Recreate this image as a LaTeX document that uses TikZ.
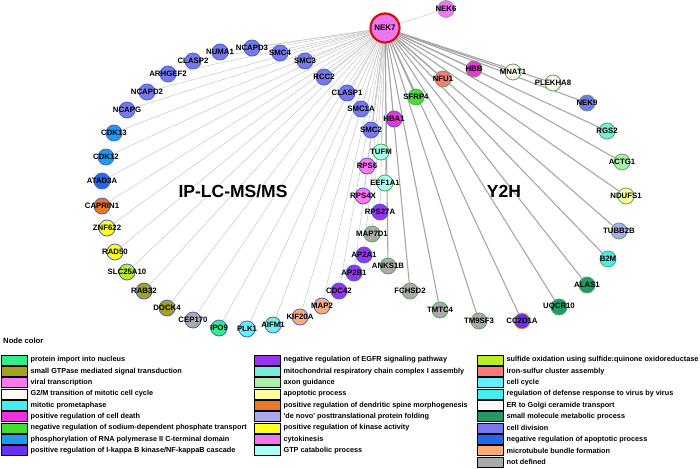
\documentclass[tikz,border=0pt]{standalone}
\usepackage{fontspec}
\setmainfont{Liberation Sans}
\usetikzlibrary{positioning}
\usetikzlibrary{backgrounds}

\definecolor{division}{HTML}{7777EE}
\definecolor{polii}{HTML}{2299EE}
\definecolor{antiapopt}{HTML}{2266EE}
\definecolor{spine}{HTML}{EE7722}
\definecolor{kinase}{HTML}{FFFF22}
\definecolor{sulfide}{HTML}{BBEE22}
\definecolor{gtpase}{HTML}{A8A020}
\definecolor{undef}{HTML}{AAAAAA}
\definecolor{import}{HTML}{33EE88}
\definecolor{cycle}{HTML}{66EEFF}
\definecolor{mitoresp}{HTML}{77EEDD}
\definecolor{bundle}{HTML}{FFAA77}
\definecolor{egfr}{HTML}{9933EE}
\definecolor{viral}{HTML}{FF77EE}
\definecolor{gtp}{HTML}{AAFFF0}
\definecolor{death}{HTML}{EE33DD}
\definecolor{sodium}{HTML}{44DD33}
\definecolor{iron}{HTML}{FF7777}
\definecolor{gtwom}{HTML}{FFFAF4}
\definecolor{axon}{HTML}{AAEEAA}
\definecolor{apopt}{HTML}{FFFF99}
\definecolor{folding}{HTML}{AAAAEE}
\definecolor{defense}{HTML}{44EEEE}
\definecolor{metab}{HTML}{229966}
\definecolor{kappa}{HTML}{6633EE}
\definecolor{cytok}{HTML}{EE77EE}
\definecolor{golgi}{HTML}{F8F8FF}
\definecolor{ipline}{HTML}{4466CC}
\definecolor{yhline}{HTML}{55AA55}

\tikzset{ipnode/.style={draw=ipline, circle, minimum size=16pt, inner sep=0pt, line width=0.8pt}}
\tikzset{yhnode/.style={draw=yhline, circle, minimum size=16pt, inner sep=0pt, line width=0.8pt}}
\tikzset{iplink/.style={draw=black!22, line width=0.5pt}}
\tikzset{yhlink/.style={draw=black!35, line width=1.1pt}}
\tikzset{swatch/.style={draw=black, line width=0.8pt, minimum width=26pt, minimum height=10pt, inner sep=0pt}}
\tikzset{legtext/.style={inner sep=0pt, font=\bfseries\fontsize{7.3}{8}\selectfont}}
\tikzset{every label/.style={inner sep=0pt, font=\bfseries\fontsize{7.8}{8}\selectfont}}

\begin{document}
\begin{tikzpicture}[x=1pt, y=-1pt]
\useasboundingbox (0,0) rectangle (700,468);

\node (nek7) [circle, draw={rgb,255:red,204;green,17;blue,17}, line width=2.2pt, fill=cytok, minimum size=29pt, inner sep=0pt, font=\bfseries\fontsize{8}{9}\selectfont] at (385,28) {NEK7};
\node (nek6) [circle, draw=black!40, line width=0.6pt, fill=cytok, minimum size=17pt, inner sep=0pt, label=center:NEK6] at (446,9) {};

% IP-LC-MS/MS partners
\node (numa1) [ipnode, fill=division, label=center:NUMA1] at (220,52) {};
\node (ncapd3) [ipnode, fill=division, label=center:NCAPD3] at (252,48) {};
\node (smc4) [ipnode, fill=division, label=center:SMC4] at (280,53) {};
\node (smc3) [ipnode, fill=division, label=center:SMC3] at (305,61) {};
\node (rcc2) [ipnode, fill=division, label=center:RCC2] at (324,77) {};
\node (clasp1) [ipnode, fill=division, label=center:CLASP1] at (347,93) {};
\node (clasp2) [ipnode, fill=division, label=center:CLASP2] at (193,61) {};
\node (arhgef2) [ipnode, fill=division, label=center:ARHGEF2] at (168,74) {};
\node (ncapd2) [ipnode, fill=division, label=center:NCAPD2] at (147,92) {};
\node (ncapg) [ipnode, fill=division, label=center:NCAPG] at (127,110) {};
\node (cdk13) [ipnode, fill=polii, label=center:CDK13] at (114,133) {};
\node (cdk12) [ipnode, fill=polii, label=center:CDK12] at (106,157) {};
\node (atad3a) [ipnode, fill=antiapopt, label=center:ATAD3A] at (102,181) {};
\node (caprin1) [ipnode, fill=spine, label=center:CAPRIN1] at (102,206) {};
\node (znf622) [ipnode, fill=kinase, label=center:ZNF622] at (107,228) {};
\node (rad50) [ipnode, fill=kinase, label=center:RAD50] at (115,252) {};
\node (slc25a10) [ipnode, fill=sulfide, label=center:SLC25A10] at (127,272) {};
\node (rab32) [ipnode, fill=gtpase, label=center:RAB32] at (144,291) {};
\node (dock4) [ipnode, fill=gtpase, label=center:DOCK4] at (167,308) {};
\node (cep170) [ipnode, fill=undef, label=center:CEP170] at (193,320) {};
\node (ipo9) [ipnode, fill=import, label=center:IPO9] at (219,328) {};
\node (plk1) [ipnode, fill=cycle, label=center:PLK1] at (247,329) {};
\node (aifm1) [ipnode, fill=mitoresp, label=center:AIFM1] at (273,325) {};
\node (kif20a) [ipnode, fill=bundle, label=center:KIF20A] at (300,317) {};
\node (map2) [ipnode, fill=bundle, label=center:MAP2] at (322,306) {};
\node (cdc42) [ipnode, fill=egfr, label=center:CDC42] at (339,291) {};
\node (ap2b1) [ipnode, fill=egfr, label=center:AP2B1] at (354,273) {};
\node (ap2a1) [ipnode, fill=egfr, label=center:AP2A1] at (364,255) {};
\node (map7d1) [yhnode, fill=undef, label=center:MAP7D1] at (372,234) {};
\node (rps27a) [ipnode, fill=egfr, label=center:RPS27A] at (380,212) {};
\node (rps4x) [ipnode, fill=viral, label=center:RPS4X] at (363,196) {};
\node (eef1a1) [yhnode, fill=gtp, label=center:EEF1A1] at (385,183) {};
\node (rps6) [ipnode, fill=viral, label=center:RPS6] at (367,166) {};
\node (tufm) [yhnode, fill=gtp, label=center:TUFM] at (381,152) {};
\node (smc2) [ipnode, fill=division, label=center:SMC2] at (371,130) {};
\node (smc1a) [ipnode, fill=division, label=center:SMC1A] at (361,109) {};
\node (hba1) [ipnode, fill=death, label=center:HBA1] at (394,119) {};

% Y2H partners
\node (sfrp4) [yhnode, fill=sodium, label=center:SFRP4] at (416,97) {};
\node (nfu1) [yhnode, fill=iron, label=center:NFU1] at (443,79) {};
\node (hbb) [yhnode, fill=death, label=center:HBB] at (474,69) {};
\node (mnat1) [yhnode, fill=gtwom, label=center:MNAT1] at (513,72) {};
\node (plekha8) [yhnode, fill=gtwom, label=center:PLEKHA8] at (553,83) {};
\node (nek9) [yhnode, fill=division, label=center:NEK9] at (587,103) {};
\node (rgs2) [yhnode, fill=mitoresp, label=center:RGS2] at (607,131) {};
\node (actg1) [yhnode, fill=axon, label=center:ACTG1] at (622,162) {};
\node (ndufs1) [yhnode, fill=apopt, label=center:NDUFS1] at (626,196) {};
\node (tubb2b) [yhnode, fill=folding, label=center:TUBB2B] at (619,231) {};
\node (b2m) [yhnode, fill=defense, label=center:B2M] at (608,259) {};
\node (alas1) [yhnode, fill=metab, label=center:ALAS1] at (587,285) {};
\node (uqcr10) [yhnode, fill=metab, label=center:UQCR10] at (559,307) {};
\node (cc2d1a) [yhnode, draw={rgb,255:red,232;green,176;blue,32}, fill=kappa, label=center:CC2D1A] at (522,321) {};
\node (tm9sf3) [yhnode, fill=undef, label=center:TM9SF3] at (479,321) {};
\node (tmtc4) [yhnode, fill=undef, label=center:TMTC4] at (440,310) {};
\node (fchsd2) [yhnode, fill=undef, label=center:FCHSD2] at (410,291) {};
\node (anks1b) [yhnode, fill=undef, label=center:ANKS1B] at (388,266) {};

\node (ip) [font=\bfseries\fontsize{17.5}{20}\selectfont] at (233,191) {IP-LC-MS/MS};
\node (yh) [font=\bfseries\fontsize{17.5}{20}\selectfont] at (504,191) {Y2H};

\begin{scope}[on background layer]
\foreach \p in {numa1,ncapd3,smc4,smc3,rcc2,clasp1,clasp2,arhgef2,ncapd2,ncapg,cdk13,cdk12,atad3a,caprin1,znf622,rad50,slc25a10,rab32,dock4,cep170,ipo9,plk1,aifm1,kif20a,map2,cdc42,ap2b1,ap2a1,map7d1,rps27a,rps4x,eef1a1,rps6,tufm,smc2,smc1a,hba1,nek6}
  \draw[iplink] (nek7) -- (\p);
\foreach \p in {sfrp4,nfu1,hbb,mnat1,plekha8,nek9,rgs2,actg1,ndufs1,tubb2b,b2m,alas1,uqcr10,cc2d1a,tm9sf3,tmtc4,fchsd2,anks1b}
  \draw[yhlink] (nek7) -- (\p);
\end{scope}

% legend
\node (title) [anchor=west, inner sep=0pt, font=\bfseries\fontsize{7.7}{9}\selectfont] at (3,341) {Node color};

\foreach \c/\t [count=\i from 0] in {import/{protein import into nucleus}, gtpase/{small GTPase mediated signal transduction}, viral/{viral transcription}, gtwom/{G2/M transition of mitotic cell cycle}, defense/{mitotic prometaphase}, death/{positive regulation of cell death}, sodium/{negative regulation of sodium-dependent phosphate transport}, polii/{phosphorylation of RNA polymerase II C-terminal domain}, kappa/{positive regulation of I-kappa B kinase/NF-kappaB cascade}}
{
  \node (swa\i) [swatch, fill=\c] at (14,360+11.35*\i) {};
  \node (lga\i) [legtext, right=3pt of swa\i] {\t};
}
\foreach \c/\t [count=\i from 0] in {egfr/{negative regulation of EGFR signaling pathway}, mitoresp/{mitochondrial respiratory chain complex I assembly}, axon/{axon guidance}, apopt/{apoptotic process}, spine/{positive regulation of dendritic spine morphogenesis}, folding/{\textquotesingle de novo\textquotesingle{} posttranslational protein folding}, kinase/{positive regulation of kinase activity}, cytok/{cytokinesis}, gtp/{GTP catabolic process}}
{
  \node (swb\i) [swatch, fill=\c] at (267,360+11.35*\i) {};
  \node (lgb\i) [legtext, right=3pt of swb\i] {\t};
}
\foreach \c/\t [count=\i from 0] in {sulfide/{sulfide oxidation using sulfide:quinone oxidoreductase}, iron/{iron-sulfur cluster assembly}, cycle/{cell cycle}, defense/{regulation of defense response to virus by virus}, golgi/{ER to Golgi ceramide transport}, metab/{small molecule metabolic process}, division/{cell division}, antiapopt/{negative regulation of apoptotic process}, bundle/{microtubule bundle formation}, undef/{not defined}}
{
  \node (swc\i) [swatch, fill=\c] at (490,360+11.35*\i) {};
  \node (lgc\i) [legtext, right=3pt of swc\i] {\t};
}
\end{tikzpicture}
\end{document}
